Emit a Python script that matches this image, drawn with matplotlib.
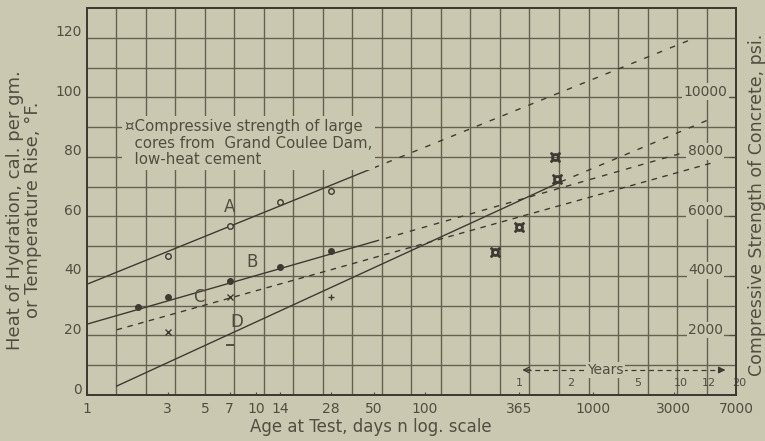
import matplotlib
matplotlib.use("Agg")
import matplotlib.pyplot as plt
import matplotlib.transforms as mtransforms
from matplotlib.ticker import NullFormatter
import numpy as np

# heat of hydration (cal per gm) against age in days, log scale
a_days = [1, 50]
a_heat = [37.2, 76.3]
a_ext_days = [50, 3750]
a_ext_heat = [76.3, 119.3]

b_days = [1, 50]
b_heat = [23.8, 51.5]
b_ext_days = [50, 5000]
b_ext_heat = [51.5, 84.1]

c_days = [1.5, 5000]
c_heat = [21.9, 77.9]

d_days = [1.5, 640]
d_heat = [3.0, 71.6]
d_ext_days = [640, 4700]
d_ext_heat = [71.6, 92.2]

# test points
a_pt_days = [3, 7, 14, 28]
a_pt_heat = [46.6, 56.8, 64.7, 68.4]
b_pt_days = [2, 3, 7, 14, 28]
b_pt_heat = [29.4, 32.8, 38.2, 42.9, 48.3]
c_pt_days = [3, 7]
c_pt_heat = [21.3, 32.8]
d_pt_days = [7]
d_pt_heat = [16.9]
d_pt2_days = [28]
d_pt2_heat = [32.8]

# Grand Coulee cores, psi (right axis)
core_days = [260, 365, 595, 605]
core_psi = [4800, 5650, 8000, 7250]

curve_names = ["A", "B", "C", "D"]
name_days = [7, 9.5, 4.6, 7.7]
name_heat = [63.2, 44.7, 32.9, 24.5]

age_ticks = [1, 3, 5, 7, 10, 14, 28, 50, 100, 365, 1000, 3000, 7000]
heat_ticks = [0, 20, 40, 60, 80, 100, 120]
psi_ticks = [2000, 4000, 6000, 8000, 10000]
years = [1, 2, 5, 10, 12, 20]

BG = "#cbc8b2"
INK = "#3d3b31"
TXT = "#504e3f"
GRID = "#65614f"

fig = plt.figure(figsize=(7.65, 4.41), dpi=100, facecolor=BG)
ax = fig.add_axes([0.1137, 0.1043, 0.8484, 0.8776], facecolor=BG)
ax.set_xscale("log")
ax.set_xlim(1, 7000)
ax.set_ylim(0, 130)

# graph paper: square cells, 22 across, 13 up
n_cells = 22
grid_x = 10 ** (np.arange(1, n_cells) * np.log10(7000) / n_cells)
ax.set_xticks(grid_x, minor=True)
ax.xaxis.set_minor_formatter(NullFormatter())
ax.set_yticks(np.arange(10, 130, 10), minor=True)
ax.yaxis.remove_overlapping_locs = False
ax.grid(which="minor", color=GRID, lw=1.0)
ax.tick_params(which="minor", length=0)

ax.set_xticks(age_ticks, labels=[str(v) for v in age_ticks])
ax.tick_params(axis="x", which="major", length=2, direction="in", pad=5,
               labelsize=10, colors=TXT)
ax.set_yticks(heat_ticks)
ax.tick_params(axis="y", which="major", length=0, pad=4, labelsize=10, colors=TXT)
up = mtransforms.ScaledTranslation(0, 7 / 100, fig.dpi_scale_trans)
for lab in ax.get_yticklabels():
    lab.set_transform(lab.get_transform() + up)

# curves
ax.plot(a_days, a_heat, color=INK, lw=1.0)
ax.plot(a_ext_days, a_ext_heat, color=INK, lw=1.0, dashes=(4, 6))
ax.plot(b_days, b_heat, color=INK, lw=1.0)
ax.plot(b_ext_days, b_ext_heat, color=INK, lw=1.0, dashes=(4, 5))
ax.plot(c_days, c_heat, color=INK, lw=1.0, dashes=(4, 4))
ax.plot(d_days, d_heat, color=INK, lw=1.0)
ax.plot(d_ext_days, d_ext_heat, color=INK, lw=1.0, dashes=(4, 6))

ax.plot(a_pt_days, a_pt_heat, ls="none", marker="o", ms=4, mfc=BG, mec=INK, mew=1)
ax.plot(b_pt_days, b_pt_heat, ls="none", marker="o", ms=4, color=INK)
ax.plot(c_pt_days, c_pt_heat, ls="none", marker="x", ms=4, color=INK, mew=1)
ax.plot(d_pt_days, d_pt_heat, ls="none", marker="_", ms=6, color=INK, mew=1.2)
ax.plot(d_pt2_days, d_pt2_heat, ls="none", marker="+", ms=5, color=INK, mew=1)

for name, d, h in zip(curve_names, name_days, name_heat):
    ax.text(d, h, name, ha="center", va="center", fontsize=12, color=TXT)

ax.text(1.68, 92.6,
        "¤Compressive strength of large\n  cores from  Grand Coulee Dam,\n  low-heat cement",
        ha="left", va="top", fontsize=10.8, color=TXT, linespacing=1.12,
        bbox=dict(facecolor=BG, edgecolor="none", pad=2))

# years scale along the bottom
yr_days = [y * 365.25 for y in years]
for y, d in zip(years, yr_days):
    ha = "right" if y == 10 else "left" if y == 12 else "center"
    ax.text(d, 4.0, str(y), ha=ha, va="center", fontsize=8, color=TXT)
ax.plot([400, 5800], [8.4, 8.4], color=INK, lw=0.9, dashes=(4, 3))
ax.annotate("", xy=(365, 8.4), xytext=(440, 8.4),
            arrowprops=dict(arrowstyle="->", color=INK, lw=0.9))
ax.annotate("", xy=(6300, 8.4), xytext=(5500, 8.4),
            arrowprops=dict(arrowstyle="-|>", color=INK, lw=0.9))
ax.text(1175, 8.4, "Years", ha="center", va="center", fontsize=10, color=TXT,
        bbox=dict(facecolor=BG, edgecolor="none", pad=1))

ax.set_xlabel("Age at Test, days n log. scale", fontsize=12, color=TXT)
ax.xaxis.set_label_coords(0.4376, -0.060)
ax.set_ylabel("Heat of Hydration, cal. per gm.\nor Temperature Rise, °F.",
              fontsize=13, color=TXT, linespacing=1.0)
ax.yaxis.set_label_coords(-0.069, 0.478)

# strength scale on the right, labels inside the grid
ax2 = ax.twinx()
ax2.set_ylim(0, 13000)
ax2.set_yticks(psi_ticks)
ax2.tick_params(axis="y", direction="in", length=5, pad=-22, labelsize=10, colors=TXT)
for lab in ax2.get_yticklabels():
    lab.set_ha("center")
    lab.set_bbox(dict(facecolor=BG, edgecolor="none", pad=1))
    lab.set_transform(lab.get_transform() + up)
ax2.plot(core_days, core_psi, ls="none", marker="$¤$", ms=7, color=INK)
ax2.set_ylabel("Compressive Strength of Concrete, psi.", fontsize=12.5, color=TXT)
ax2.yaxis.set_label_coords(1.019, 0.49)

for a in (ax, ax2):
    for s in a.spines.values():
        s.set_color(INK)
        s.set_linewidth(1.3)

fig.savefig("out.png", dpi=100, facecolor=BG)
